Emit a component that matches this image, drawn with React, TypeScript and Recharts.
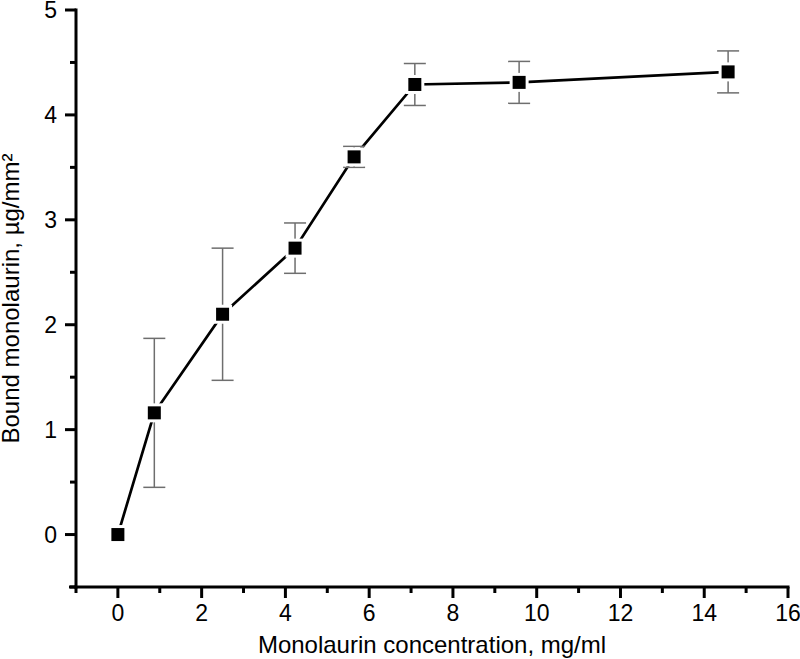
import React from 'react';
import { ComposedChart, Line, Scatter, XAxis, YAxis, ErrorBar } from 'recharts';

// monolaurin concentration (mg/ml) vs bound monolaurin (µg/mm²), with ± error
const concentration = [0, 0.87, 2.5, 4.23, 5.64, 7.09, 9.58, 14.57];
const bound = [0, 1.16, 2.1, 2.73, 3.6, 4.29, 4.31, 4.41];
const boundErr = [0, 0.71, 0.63, 0.24, 0.1, 0.2, 0.2, 0.2];

const xTicks = [-1, 0, 1, 2, 3, 4, 5, 6, 7, 8, 9, 10, 11, 12, 13, 14, 15, 16];
const yTicks = [-0.5, 0, 0.5, 1, 1.5, 2, 2.5, 3, 3.5, 4, 4.5, 5];

const data = concentration.map((c, i) => ({ x: c, y: bound[i], err: boundErr[i] }));

const FONT = '"Liberation Sans", Arial, sans-serif';

const XTick = (props: any) => {
  const { x, y, payload } = props;
  const v = payload.value;
  const major = v >= 0 && v % 2 === 0;
  return (
    <g>
      <line x1={x} x2={x} y1={y} y2={y + (major ? 11 : 6)} stroke="#000" strokeWidth={3} />
      {v === -1 && <line x1={x - 7} x2={x} y1={y} y2={y} stroke="#000" strokeWidth={3} />}
      {major && (
        <text x={x} y={y + 34} textAnchor="middle" fontSize={23} fontFamily={FONT} fill="#000">
          {v}
        </text>
      )}
    </g>
  );
};

const YTick = (props: any) => {
  const { x, y, payload } = props;
  const v = payload.value;
  const major = Number.isInteger(v);
  return (
    <g>
      <line x1={x - (major ? 11 : 6)} x2={x} y1={y} y2={y} stroke="#000" strokeWidth={3} />
      {major && (
        <text x={x - 19} y={y + 8} textAnchor="end" fontSize={23} fontFamily={FONT} fill="#000">
          {v}
        </text>
      )}
    </g>
  );
};

const GapDot = (props: any) => {
  const { cx, cy } = props;
  if (cx == null || cy == null) return null;
  return <rect x={cx - 9.5} y={cy - 9.5} width={19} height={19} fill="#fff" />;
};

const Square = (props: any) => {
  const { cx, cy } = props;
  if (cx == null || cy == null) return null;
  return <rect x={cx - 6.5} y={cy - 6.5} width={13} height={13} fill="#000" />;
};

const axisLine = { stroke: '#000', strokeWidth: 3, strokeLinecap: 'square' as const };

export default function App() {
  return (
    <div style={{ position: 'absolute', left: 0, top: 0, width: 800, height: 659, background: '#fff' }}>
      <ComposedChart width={800} height={659} data={data} margin={{ top: 10, right: 12, bottom: 0, left: 0 }}>
        <XAxis
          type="number"
          dataKey="x"
          domain={[-1, 16]}
          ticks={xTicks}
          interval={0}
          tick={<XTick />}
          tickLine={false}
          tickSize={0}
          tickMargin={0}
          axisLine={axisLine}
          height={72}
          allowDataOverflow
          label={{
            content: (p: any) => {
              const vb = p.viewBox;
              return (
                <text x={vb.x + vb.width / 2} y={vb.y + 66} textAnchor="middle" fontSize={24} fontFamily={FONT} fill="#000">
                  Monolaurin concentration, mg/ml
                </text>
              );
            },
          }}
        />
        <YAxis
          type="number"
          domain={[-0.5, 5]}
          ticks={yTicks}
          interval={0}
          tick={<YTick />}
          tickLine={false}
          tickSize={0}
          tickMargin={0}
          axisLine={axisLine}
          width={76}
          allowDataOverflow
          label={{
            content: (p: any) => {
              const vb = p.viewBox;
              const cx = 19;
              const cy = vb.y + vb.height / 2;
              return (
                <text
                  x={cx}
                  y={cy}
                  transform={`rotate(-90 ${cx} ${cy})`}
                  textAnchor="middle"
                  fontSize={24}
                  fontFamily={FONT}
                  fill="#000"
                >
                  Bound monolaurin, µg/mm²
                </text>
              );
            },
          }}
        />
        <Line
          type="linear"
          dataKey="y"
          stroke="#000"
          strokeWidth={2.7}
          dot={<GapDot />}
          activeDot={false}
          isAnimationActive={false}
        />
        <Scatter dataKey="y" shape={<Square />} isAnimationActive={false}>
          <ErrorBar dataKey="err" direction="y" width={11} stroke="#6e6e6e" strokeWidth={1.5} />
        </Scatter>
      </ComposedChart>
    </div>
  );
}
